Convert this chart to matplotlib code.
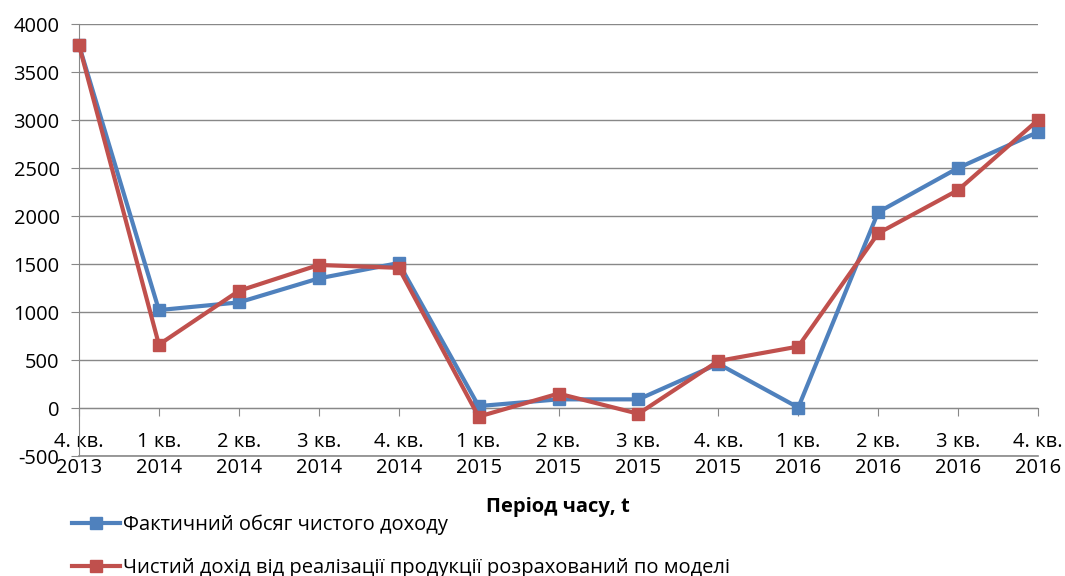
import matplotlib
matplotlib.use("Agg")
import matplotlib.pyplot as plt
from matplotlib.lines import Line2D

categories = ["4. кв.\n2013", "1 кв.\n2014", "2 кв.\n2014", "3 кв.\n2014", "4. кв.\n2014",
              "1 кв.\n2015", "2 кв.\n2015", "3 кв.\n2015", "4. кв.\n2015",
              "1 кв.\n2016", "2 кв.\n2016", "3 кв.\n2016", "4. кв.\n2016"]
actual = [3780, 1020, 1100, 1350, 1510, 20, 90, 90, 460, 5, 2040, 2500, 2875]
model = [3780, 660, 1220, 1490, 1460, -90, 150, -60, 490, 640, 1820, 2270, 3000]
yticks = [-500, 0, 500, 1000, 1500, 2000, 2500, 3000, 3500, 4000]

label_actual = "Фактичний обсяг чистого доходу"
label_model = "Чистий дохід від реалізації продукції розрахований по моделі"
xlabel = "Період часу, t"

plt.rcParams['font.family'] = ['Open Sans', 'DejaVu Sans']

BLUE = "#4F81BD"
RED = "#C0504D"
GRID = "#888888"
FS = 14.5

fig = plt.figure(figsize=(10.65, 5.76), dpi=100)
ax = fig.add_axes([79/1065, 1-456/576, (1038-79)/1065, (456-24)/576])

for s in ['top', 'right']:
    ax.spines[s].set_visible(False)
ax.spines['bottom'].set_position(('data', 0))
ax.spines['bottom'].set_color(GRID)
ax.spines['left'].set_color(GRID)

x = list(range(len(categories)))
ax.plot(x, actual, color=BLUE, lw=3, marker='s', ms=8.5, clip_on=False, zorder=3)
ax.plot(x, model, color=RED, lw=3, marker='s', ms=8.5, clip_on=False, zorder=4)

ax.set_xlim(0, len(categories) - 1)
ax.set_ylim(-500, 4000)
ax.set_yticks(yticks)
ax.set_yticklabels([str(v) for v in yticks], fontsize=FS)
ax.set_xticks(x)
ax.set_xticklabels(categories, fontsize=FS, linespacing=1.45)

ax.yaxis.grid(True, color=GRID, lw=1)
ax.axhline(yticks[0], color=GRID, lw=1.2, clip_on=False, zorder=0.5)
ax.set_axisbelow(True)
ax.tick_params(axis='y', length=6, color=GRID, pad=8, direction='out')
ax.tick_params(axis='x', length=6, color=GRID, pad=11, direction='out')

fig.text(558/1065, 1-507/576, xlabel, fontsize=FS, fontweight='bold', ha='center', va='center')

handles = [Line2D([], [], color=BLUE, lw=3, marker='s', ms=8.5),
           Line2D([], [], color=RED, lw=3, marker='s', ms=8.5)]
fig.legend(handles, [label_actual, label_model], loc='upper left',
           bbox_to_anchor=(72/1065, 1-515/576), frameon=False, fontsize=FS,
           handlelength=2.4, handletextpad=0.15, labelspacing=1.1, borderaxespad=0,
           borderpad=0)

fig.savefig("out.png", dpi=100)
